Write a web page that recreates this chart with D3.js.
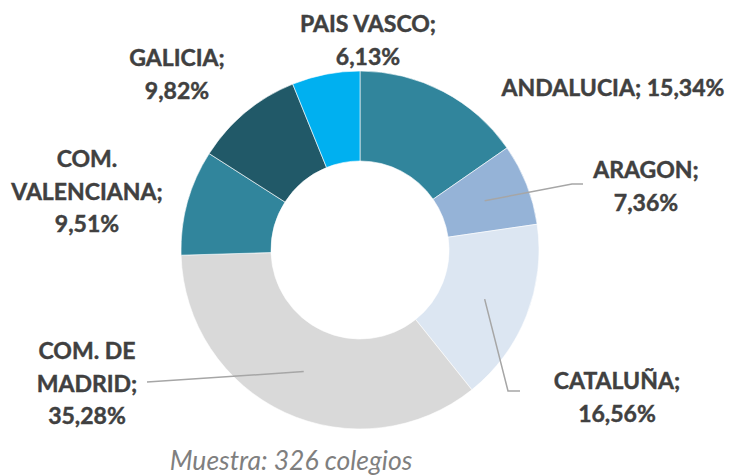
<!DOCTYPE html>
<html>
<head>
<meta charset="utf-8">
<script src="https://cdn.jsdelivr.net/npm/d3@7"></script>
<style>
  html, body { margin: 0; padding: 0; background: #fff; }
  .lbl { font-family: Lato, "Open Sans", sans-serif; font-weight: 700; fill: #404040; stroke: #404040; stroke-width: 0.45; }
  .note { font-family: Lato, "Open Sans", sans-serif; font-style: italic; fill: #7f7f7f; }
</style>
</head>
<body>
<div id="chart"></div>
<script>
// data, clockwise from 12 o'clock
const regions = ["ANDALUCIA", "ARAGON", "CATALUÑA", "COM. DE MADRID", "COM. VALENCIANA", "GALICIA", "PAIS VASCO"];
const shares = [15.34, 7.36, 16.56, 35.28, 9.51, 9.82, 6.13];
const sliceColors = ["#31859c", "#95b3d7", "#dce6f2", "#d9d9d9", "#31859c", "#215968", "#00b0f0"];
const note = "Muestra: 326 colegios";

// label layout: lines, centre x, first baseline, optional leader end points
const labelLayout = [
  { lines: ["ANDALUCIA; 15,34%"], x: 613, y: 96 },
  { lines: ["ARAGON;", "7,36%"], x: 646, y: 178, leader: [[572, 184], [583, 184]] },
  { lines: ["CATALUÑA;", "16,56%"], x: 617, y: 389, leader: [[508, 391], [520, 391]] },
  { lines: ["COM. DE", "MADRID;", "35,28%"], x: 87, y: 359, leader: [[147, 382]] },
  { lines: ["COM.", "VALENCIANA;", "9,51%"], x: 87, y: 167 },
  { lines: ["GALICIA;", "9,82%"], x: 177, y: 66 },
  { lines: ["PAIS VASCO;", "6,13%"], x: 368, y: 32 }
];

const width = 732, height = 475;
const cx = 360, cy = 250, outerR = 179, innerR = 89;
const lineH = 32.5;

const svg = d3.select("#chart").append("svg")
  .attr("width", width).attr("height", height)
  .attr("viewBox", [0, 0, width, height]);

const pie = d3.pie().sort(null).value(d => d);
const arcs = pie(shares);
const arc = d3.arc().innerRadius(innerR).outerRadius(outerR);

const g = svg.append("g").attr("transform", `translate(${cx},${cy})`);

g.selectAll("path")
  .data(arcs)
  .join("path")
  .attr("d", arc)
  .attr("fill", (d, i) => sliceColors[i])
  .attr("stroke", "#fff")
  .attr("stroke-width", 0.6);

// leader lines start at slice centroids
const line = d3.line();
arcs.forEach((d, i) => {
  const lay = labelLayout[i];
  if (!lay.leader) return;
  const c = arc.centroid(d);
  const pts = [[cx + c[0], cy + c[1]], ...lay.leader];
  svg.append("path")
    .attr("d", line(pts))
    .attr("fill", "none")
    .attr("stroke", "#a6a6a6")
    .attr("stroke-width", 1.5);
});

// labels, font size fitted so the one-line label spans like the reference
const probe = svg.append("text").attr("class", "lbl").attr("font-size", 100).text(labelLayout[0].lines[0]);
const fs = 100 * 223 / probe.node().getComputedTextLength();
probe.remove();

labelLayout.forEach((lay, i) => {
  const t = svg.append("text")
    .attr("class", "lbl")
    .attr("font-size", fs)
    .attr("text-anchor", "middle");
  lay.lines.forEach((s, j) => {
    t.append("tspan").attr("x", lay.x).attr("y", lay.y + j * lineH).text(s);
  });
});

svg.append("text")
  .attr("class", "note")
  .attr("x", 291).attr("y", 470)
  .attr("text-anchor", "middle")
  .attr("font-size", 26.5)
  .text(note);
</script>
</body>
</html>
